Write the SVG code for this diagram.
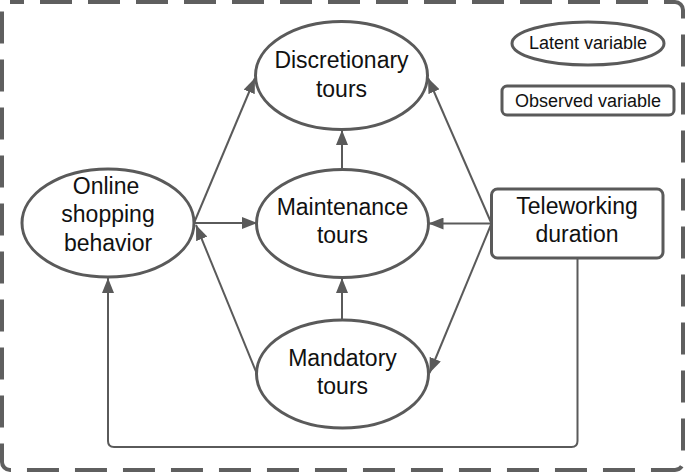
<svg xmlns="http://www.w3.org/2000/svg" width="685" height="472" viewBox="0 0 685 472">
<style>
.node{fill:#fff;stroke:#5a5a5a;stroke-width:3}
.conn{fill:none;stroke:#5a5a5a;stroke-width:2}
.t{font-family:"Liberation Sans",Arial,sans-serif;font-size:23px;fill:#111;text-anchor:middle}
.l{font-family:"Liberation Sans",Arial,sans-serif;font-size:18px;fill:#111;text-anchor:middle}
</style>
<defs>
<marker id="ah" markerUnits="userSpaceOnUse" markerWidth="16" markerHeight="12" refX="15" refY="6" orient="auto">
<path d="M0,0 L15,6 L0,12 z" fill="#5a5a5a"/>
</marker>
</defs>
<rect x="2" y="2" width="681" height="468" rx="8" fill="#fff" stroke="#5f5f5f" stroke-width="4" stroke-dasharray="32 16" stroke-dashoffset="18"/>
<g id="connectors">
<path class="conn" d="M194,223 L255,78" marker-end="url(#ah)"/>
<path class="conn" d="M194,223 H257" marker-end="url(#ah)"/>
<path class="conn" d="M257,374 L196,225" marker-end="url(#ah)"/>
<path class="conn" d="M342,170 V130" marker-end="url(#ah)"/>
<path class="conn" d="M342,320 V278" marker-end="url(#ah)"/>
<path class="conn" d="M491.5,223.5 L428,78" marker-end="url(#ah)"/>
<path class="conn" d="M491.5,223.5 H428.5" marker-end="url(#ah)"/>
<path class="conn" d="M491.5,223.5 L429.5,373" marker-end="url(#ah)"/>
<path class="conn" d="M577.5,258 V441 Q577.5,447 571.5,447 H114 Q108,447 108,441 V278" marker-end="url(#ah)"/>
</g>
<g id="discretionary">
<ellipse class="node" cx="341.5" cy="75.5" rx="86" ry="54"/>
<text class="t" x="341.5" y="68">Discretionary</text>
<text class="t" x="341.5" y="97">tours</text>
</g>
<g id="online">
<ellipse class="node" cx="108" cy="223" rx="86" ry="54"/>
<text class="t" x="106" y="194">Online</text>
<text class="t" x="108" y="222">shopping</text>
<text class="t" x="108" y="251">behavior</text>
</g>
<g id="maintenance">
<ellipse class="node" cx="342.5" cy="223.5" rx="86" ry="54"/>
<text class="t" x="342.5" y="215">Maintenance</text>
<text class="t" x="342.5" y="243">tours</text>
</g>
<g id="mandatory">
<ellipse class="node" cx="342.5" cy="374" rx="86" ry="54"/>
<text class="t" x="342.5" y="366">Mandatory</text>
<text class="t" x="342.5" y="394">tours</text>
</g>
<g id="teleworking">
<rect class="node" x="491.5" y="189" width="171.5" height="69" rx="6"/>
<text class="t" x="577" y="214">Teleworking</text>
<text class="t" x="577" y="242">duration</text>
</g>
<g id="legend-latent">
<ellipse class="node" cx="588" cy="43.5" rx="76" ry="21.5"/>
<text class="l" x="588" y="49">Latent variable</text>
</g>
<g id="legend-observed">
<rect class="node" x="502" y="86" width="172" height="29" rx="5"/>
<text class="l" x="588" y="106.5">Observed variable</text>
</g>
</svg>
